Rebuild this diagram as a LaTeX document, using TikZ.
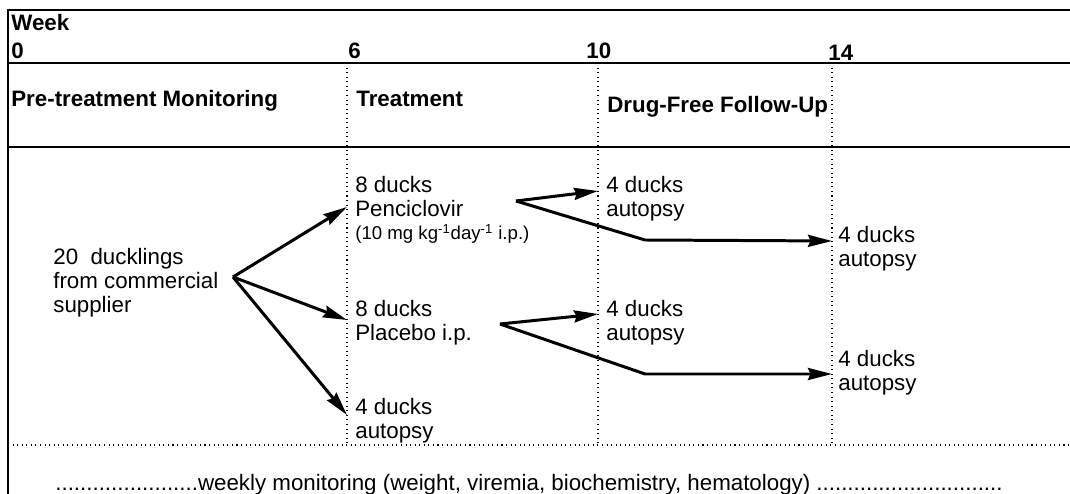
\documentclass[tikz,border=0pt]{standalone}
\usepackage{fontspec}
\setmainfont{Liberation Sans}
\usetikzlibrary{arrows.meta}

\tikzset{
  hdr/.style={font=\fontsize{12.7}{15}\selectfont\bfseries, anchor=base west, inner sep=0pt},
  txt/.style={font=\fontsize{12.7}{15}\selectfont, anchor=base west, inner sep=0pt},
  smalltxt/.style={font=\fontsize{10.6}{12}\selectfont, anchor=base west, inner sep=0pt},
  rule/.style={line width=1.2pt},
  sepline/.style={dotted, line width=0.6pt},
  flow/.style={line width=1.7pt, -{Stealth[length=0.48cm, width=0.24cm, inset=0.05cm]}}
}

\begin{document}
\begin{tikzpicture}
        \useasboundingbox (0,0) rectangle (21.4,9.88);

        % frame and columns
        \draw[rule] (21.4,9.68) -- (0.16,9.68) -- (0.16,0);
        \draw[rule] (0.16,8.62) -- (21.4,8.62);
        \draw[rule] (0.16,6.94) -- (21.4,6.94);
        \draw[sepline] (0.16,0.98) -- (21.4,0.98);
        \draw[sepline] (6.94,8.62) -- (6.94,0.98);
        \draw[sepline] (11.96,8.62) -- (11.96,0.98);
        \draw[sepline] (16.64,8.62) -- (16.64,0.98);

        % week scale
        \node[hdr] (wk) at (0.22,9.27) {Week};
        \node[hdr] (w0) at (0.22,8.70) {0};
        \node[hdr] (w6) at (6.96,8.70) {6};
        \node[hdr] (w10) at (11.72,8.70) {10};
        \node[hdr] (w14) at (16.56,8.66) {14};

        % phases
        \node[hdr] (pre) at (0.22,7.75) {Pre-treatment Monitoring};
        \node[hdr] (trt) at (7.12,7.75) {Treatment};
        \node[hdr] (dff) at (12.14,7.62) {Drug-Free Follow-Up};

        % groups
        \node[txt] (dl1) at (1.06,4.58) {20\ \ ducklings};
        \node[txt] (dl2) at (1.06,4.10) {from commercial};
        \node[txt] (dl3) at (1.06,3.62) {supplier};

        \node[txt] (pc1) at (7.1,6.02) {8 ducks};
        \node[txt] (pc2) at (7.1,5.54) {Penciclovir};
        \node[smalltxt] (pc3) at (7.1,5.08) {(10 mg kg\textsuperscript{-1}day\textsuperscript{-1} i.p.)};
        \node[txt] (pl1) at (7.1,3.54) {8 ducks};
        \node[txt] (pl2) at (7.1,3.06) {Placebo i.p.};
        \node[txt] (au1) at (7.1,1.58) {4 ducks};
        \node[txt] (au2) at (7.1,1.10) {autopsy};

        \node[txt] (pa1) at (12.12,6.02) {4 ducks};
        \node[txt] (pa2) at (12.12,5.54) {autopsy};
        \node[txt] (la1) at (12.12,3.54) {4 ducks};
        \node[txt] (la2) at (12.12,3.06) {autopsy};

        \node[txt] (pb1) at (16.76,5.02) {4 ducks};
        \node[txt] (pb2) at (16.76,4.54) {autopsy};
        \node[txt] (lb1) at (16.76,2.54) {4 ducks};
        \node[txt] (lb2) at (16.76,2.06) {autopsy};

        \node[txt] (mon) at (1.1,0.07) {.......................weekly monitoring (weight, viremia, biochemistry, hematology) ..............................};

        % arrow ends
        \coordinate (s0) at (4.66,4.34);
        \coordinate (t1) at (6.94,5.74);
        \coordinate (t2) at (6.94,3.48);
        \coordinate (t3) at (6.94,1.58);
        \coordinate (s1) at (10.32,5.86);
        \coordinate (u1) at (11.96,6.06);
        \coordinate (k1) at (12.9,5.08);
        \coordinate (v1) at (16.64,5.06);
        \coordinate (s2) at (10.0,3.4);
        \coordinate (u2) at (11.96,3.6);
        \coordinate (k2) at (12.9,2.4);
        \coordinate (v2) at (16.64,2.4);

        \draw[flow] (s0) -- (t1);
        \draw[flow] (s0) -- (t2);
        \draw[flow] (s0) -- (t3);
        \draw[flow] (s1) -- (u1);
        \draw[flow] (s1) -- (k1) -- (v1);
        \draw[flow] (s2) -- (u2);
        \draw[flow] (s2) -- (k2) -- (v2);
\end{tikzpicture}
\end{document}
